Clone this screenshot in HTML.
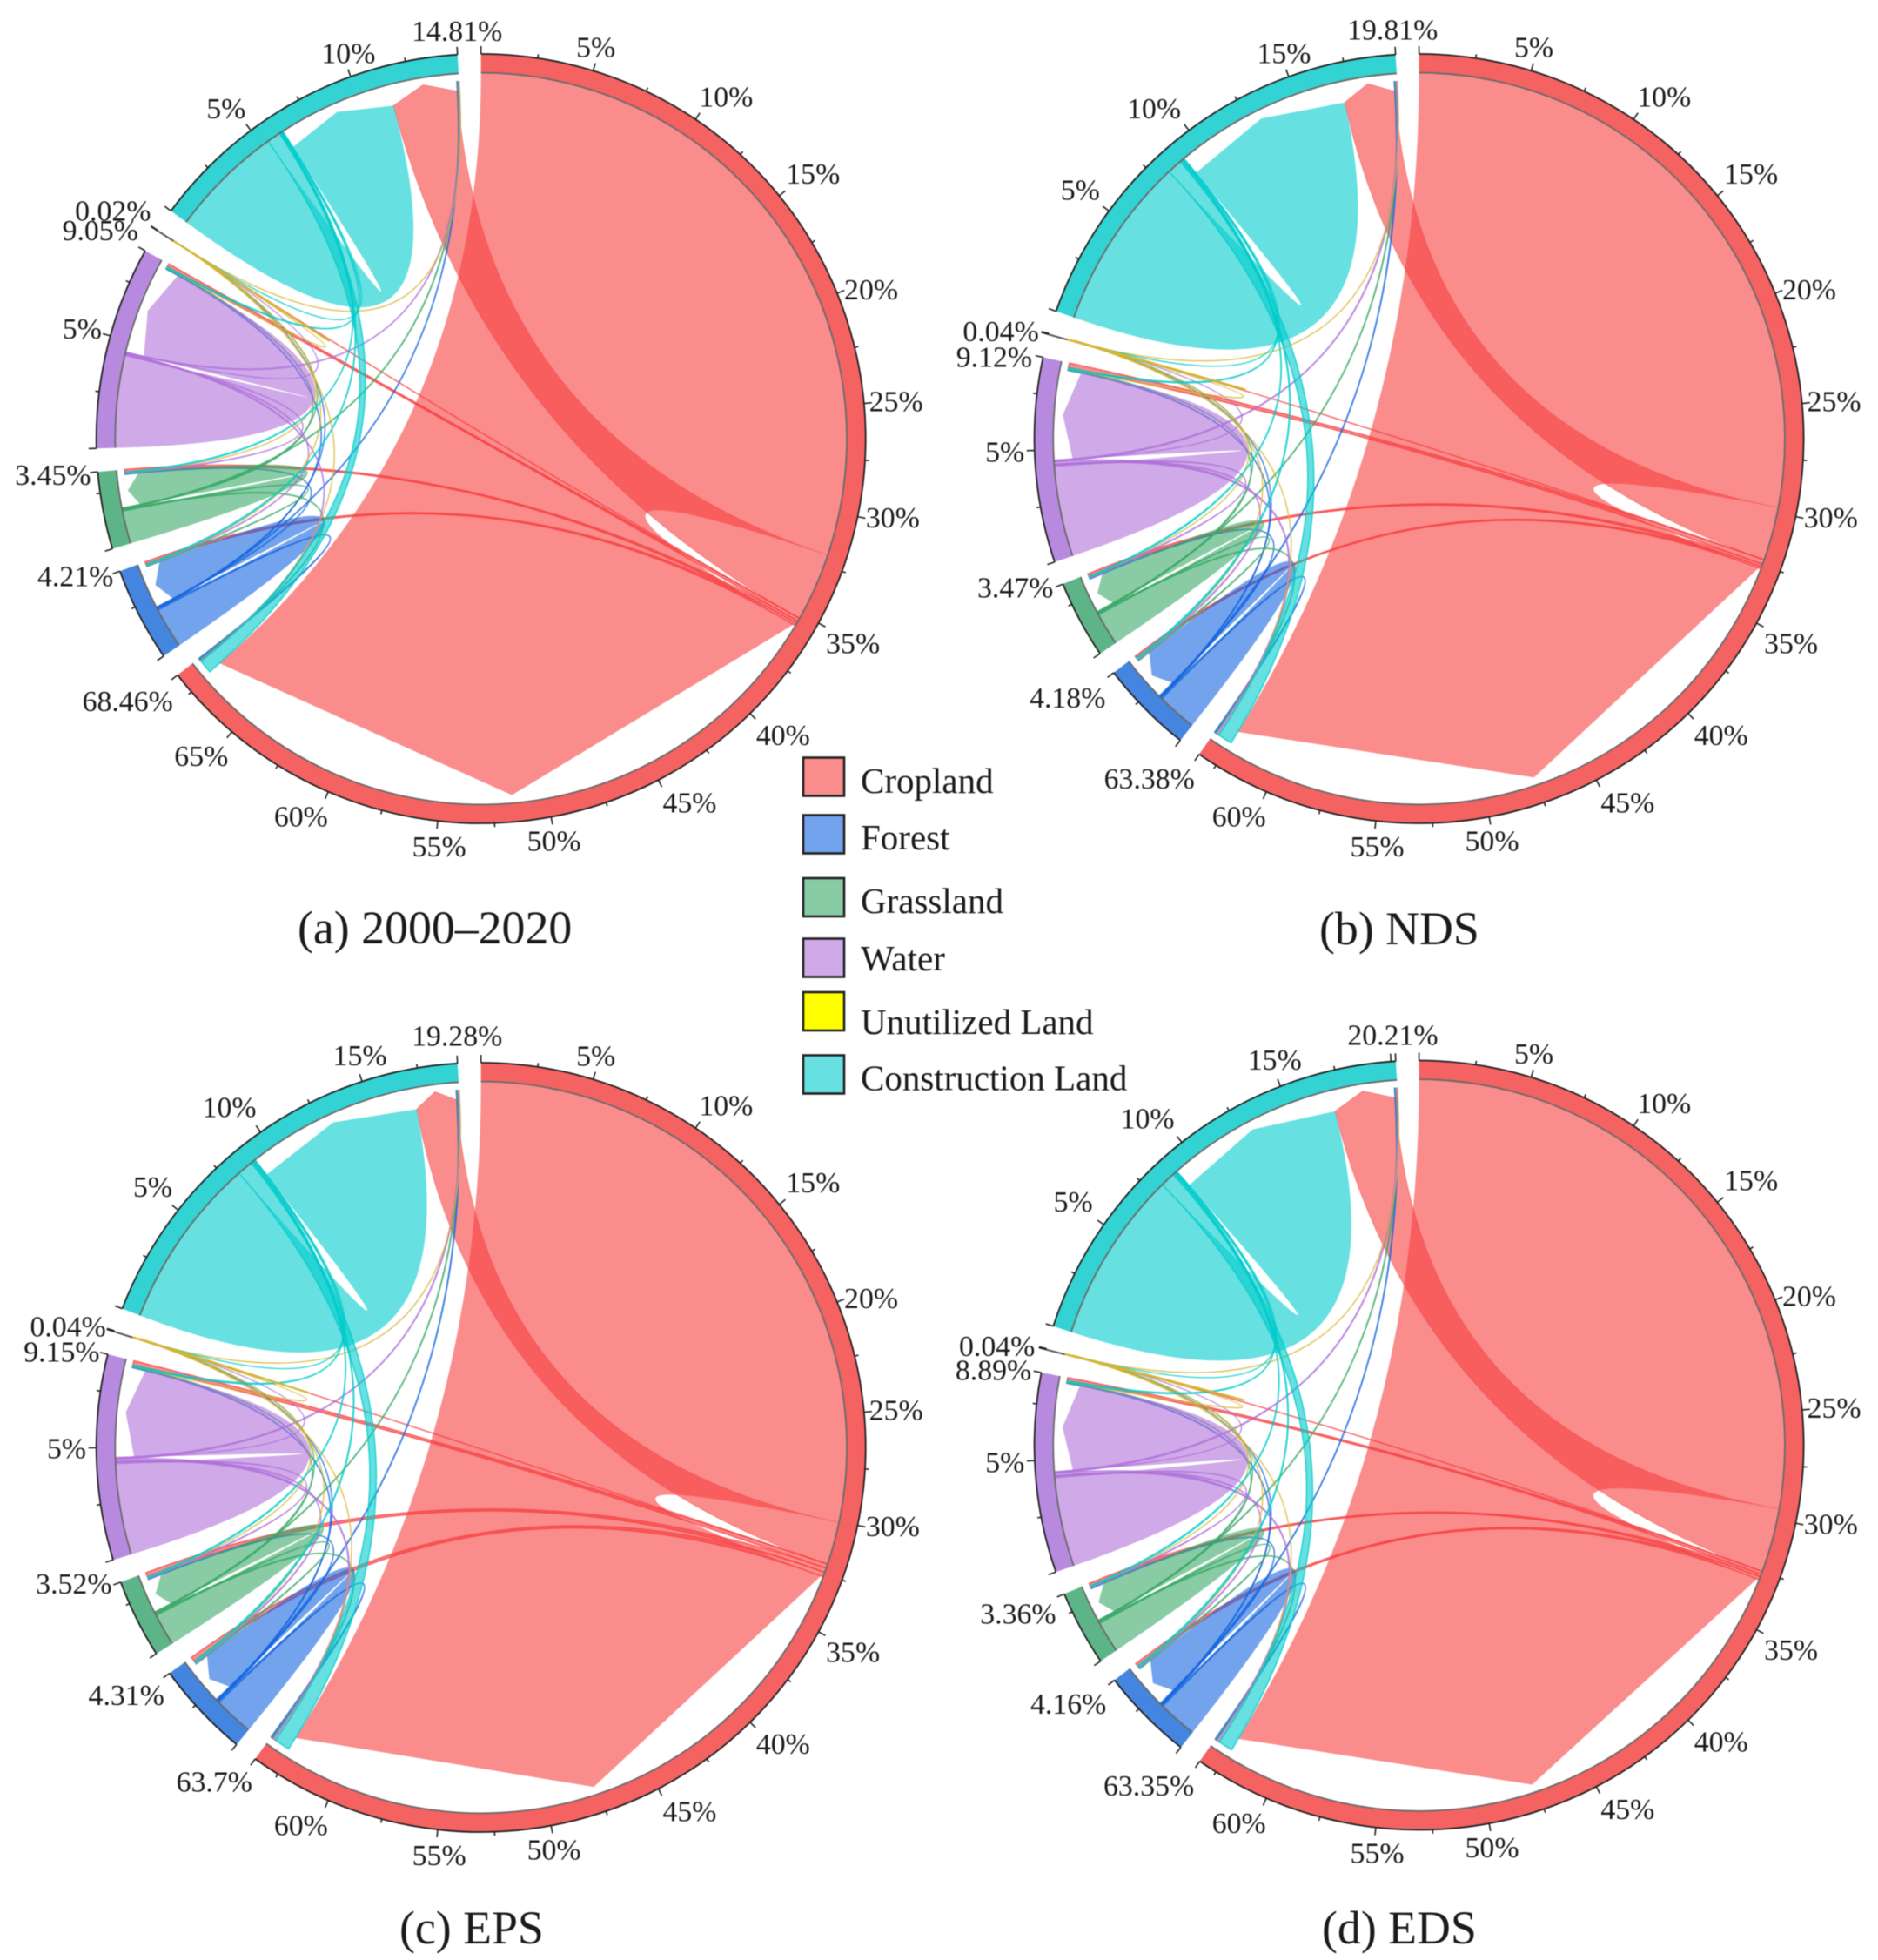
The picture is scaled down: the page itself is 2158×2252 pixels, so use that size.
<!DOCTYPE html>
<html lang="en">
<head>
<meta charset="utf-8">
<title>Land use transition chord diagrams</title>
<style>
html,body{margin:0;padding:0;background:#fff;}
svg{display:block;filter:blur(0.55px);}
text{font-family:"Liberation Serif",serif;fill:#1a1a1a;}
</style>
</head>
<body>
<svg id="chart" xmlns="http://www.w3.org/2000/svg" width="2158" height="2252" viewBox="0 0 2158 2252">
<rect x="0" y="0" width="2158" height="2252" fill="#fff"/>
<g>
<g><rect x="923" y="870.5" width="47" height="44" fill="#FA8C8C" stroke="#222" stroke-width="2.6"/><text x="989" y="911" font-size="41">Cropland</text></g>
<g><rect x="923" y="936.5" width="47" height="44" fill="#73A3EC" stroke="#222" stroke-width="2.6"/><text x="989" y="976" font-size="41">Forest</text></g>
<g><rect x="923" y="1009" width="47" height="44" fill="#88CBA4" stroke="#222" stroke-width="2.6"/><text x="989" y="1049" font-size="41">Grassland</text></g>
<g><rect x="923" y="1078.5" width="47" height="44" fill="#CFA9E8" stroke="#222" stroke-width="2.6"/><text x="989" y="1115" font-size="41">Water</text></g>
<g><rect x="923" y="1140" width="47" height="44" fill="#FFFF00" stroke="#222" stroke-width="2.6"/><text x="989" y="1188" font-size="41">Unutilized Land</text></g>
<g><rect x="923" y="1212.5" width="47" height="44" fill="#66E0E0" stroke="#222" stroke-width="2.6"/><text x="989" y="1252.5" font-size="41">Construction Land</text></g>
</g>
<text x="342" y="1084" font-size="53.8">(a) 2000–2020</text>
<text x="1516" y="1085" font-size="53.8">(b) NDS</text>
<text x="459" y="2233" font-size="53.8">(c) EPS</text>
<text x="1519" y="2233" font-size="53.8">(d) EDS</text>
</svg>
<script>
// Class order: Cropland, Forest, Grassland, Water, Unutilized Land, Construction Land
const classes = ['cropland','forest','grassland','water','unutilized-land','construction-land'];

// Printed sector sizes (%) per panel
const sizesA = [68.46, 4.21, 3.45, 9.05, 0.02, 14.81];
const sizesB = [63.38, 4.18, 3.47, 9.12, 0.04, 19.81];
const sizesC = [63.70, 4.31, 3.52, 9.15, 0.04, 19.28];
const sizesD = [63.35, 4.16, 3.36, 8.89, 0.04, 20.21];

// Off-diagonal flows (%): row = from class, column = to class. Self flows fill the rest of each sector.
const flowsA = [
  [0,    0.12, 0.12, 0.15, 0.001, 3.20],
  [0.06, 0,    0.03, 0.03, 0.001, 0.03],
  [0.05, 0.03, 0,    0.03, 0.001, 0.04],
  [0.05, 0.03, 0.03, 0,    0.001, 0.04],
  [0.001,0.001,0.001,0.001,0,     0.001],
  [0.65, 0.06, 0.05, 0.06, 0.001, 0]
];
const flowsB = [
  [0,    0.10, 0.12, 0.22, 0.002, 2.50],
  [0.06, 0,    0.04, 0.03, 0.002, 0.04],
  [0.05, 0.04, 0,    0.03, 0.002, 0.04],
  [0.12, 0.05, 0.04, 0,    0.002, 0.06],
  [0.002,0.002,0.002,0.002,0,     0.002],
  [0.70, 0.08, 0.06, 0.07, 0.002, 0]
];
const flowsC = [
  [0,    0.22, 0.20, 0.20, 0.002, 2.00],
  [0.07, 0,    0.04, 0.03, 0.002, 0.04],
  [0.06, 0.04, 0,    0.03, 0.002, 0.04],
  [0.12, 0.05, 0.04, 0,    0.002, 0.06],
  [0.002,0.002,0.002,0.002,0,     0.002],
  [0.75, 0.08, 0.06, 0.07, 0.002, 0]
];
const flowsD = [
  [0,    0.14, 0.12, 0.14, 0.002, 3.00],
  [0.06, 0,    0.04, 0.03, 0.002, 0.04],
  [0.05, 0.04, 0,    0.03, 0.002, 0.04],
  [0.12, 0.05, 0.04, 0,    0.002, 0.06],
  [0.002,0.002,0.002,0.002,0,     0.002],
  [0.70, 0.08, 0.06, 0.07, 0.002, 0]
];

const panels = [
  {id:'a', sizes:sizesA, flows:flowsA, cx:552.7,  cy:504,    R:442},
  {id:'b', sizes:sizesB, flows:flowsB, cx:1630.6, cy:504,    R:442},
  {id:'c', sizes:sizesC, flows:flowsC, cx:552.7,  cy:1663,   R:442},
  {id:'d', sizes:sizesD, flows:flowsD, cx:1630.6, cy:1660.5, R:442}
];

const GAP = 3.5, DEG = (360 - 6 * GAP) / 100;
const RING_IN = 0.951, CHORD = 0.951, THIN_END = 0.93, FONT = 33.8, NUDGE = 1.4387;
const ringFill = ['#F46262','#4485E0','#5DB587','#B88ADF','#555555','#33D3D3'];
const ribbonFill = ['rgb(247,63,63)','rgb(22,102,223)','rgb(57,168,103)','rgb(175,112,217)','rgb(214,180,50)','rgb(0,203,203)'];
const ALPHA = '0.6';
const outOrder = [[5,4,3,2,1],[0,5,4,3,2],[1,0,5,4,3],[2,1,0,5,4],[5,3,2,1,0],[0,1,2,3,4]];
const inOrder  = [[5,4,3,2,1],[2,3,4,5,0],[1,3,4,5,0],[1,2,4,5,0],[1,2,3,5,0],[0,1,2,3,4]];

// Hand placement offsets for text labels, matching the irregular label positions in the figure
const cropTickNudge = {5:[-8,2],10:[5,0],15:[0,-4],20:[-5,5],25:[-9,0],30:[-6,-4],35:[-3,5],40:[2,1],45:[9,-2],50:[-4,-3],55:[5,-2],60:[-8,-1],65:[-2,2]};
const waterTickNudge = {5:[11,0]};
const constructionTickNudge = {
  a:{5:[1,0],10:[10,2]},
  b:{5:[5,-4],10:[-7,0],15:[8,2]},
  c:{5:[7,-5],10:[-5,-2],15:[9,0]},
  d:{5:[4,-6],10:[-6,-2],15:[8,-1]}
};
const totalNudge = {
  a:[[4,7],[1,-4],[3,0],[-2,-6],[-3,-4],[2,3]],
  b:[[-8,1],[-6,6],[-2,-6],[-1,4],[-1,4],[0,2]],
  c:[[0,0],[-3,4],[-1,-7],[1,3],[0,3],[2,0]],
  d:[[-9,1],[-6,5],[-1,7],[0,2],[-2,3],[0,1]]
};

const SVGNS = 'http://www.w3.org/2000/svg';
const root = document.getElementById('chart');

function polar(p, r, deg) {
  const a = deg * Math.PI / 180;
  return [p.cx + p.R * r * Math.sin(a), p.cy - p.R * r * Math.cos(a)];
}
function fmt(q) { return q[0].toFixed(2) + ' ' + q[1].toFixed(2); }
function arcPath(p, r, d0, d1, move) {
  const a = polar(p, r, d0), b = polar(p, r, d1);
  const rr = (p.R * r).toFixed(2);
  return (move ? 'M' + fmt(a) : 'L' + fmt(a)) + 'A' + rr + ' ' + rr + ' 0 ' + (d1 - d0 > 180 ? 1 : 0) + ' 1 ' + fmt(b);
}
function make(tag, parent) {
  const el = document.createElementNS(SVGNS, tag);
  parent.appendChild(el);
  return el;
}

function layout(p) {
  const n = 6, start = [], selfSize = [], selfOut = [], selfIn = [], outEnd = [], inEnd = [];
  let ang = 0;
  for (let i = 0; i < n; i++) {
    start[i] = ang;
    ang += p.sizes[i] * DEG + GAP;
    let sum = 0;
    for (let j = 0; j < n; j++) { if (j !== i) sum += p.flows[i][j] + p.flows[j][i]; }
    selfSize[i] = Math.max(0, (p.sizes[i] - sum) / 2);
    let c = 0;
    selfOut[i] = [c, c + selfSize[i]];
    c += selfSize[i];
    outEnd[i] = {};
    outOrder[i].forEach(function (j) { outEnd[i][j] = [c, c + p.flows[i][j]]; c += p.flows[i][j]; });
    selfIn[i] = [c, c + selfSize[i]];
    c += selfSize[i];
    inEnd[i] = {};
    inOrder[i].forEach(function (j) { inEnd[i][j] = [c, c + p.flows[j][i]]; c += p.flows[j][i]; });
  }
  return {start: start, selfSize: selfSize, selfOut: selfOut, selfIn: selfIn, outEnd: outEnd, inEnd: inEnd};
}

function ribbonPath(p, L, i, aEnd, j, bEnd, bDepth) {
  const ctr = p.cx.toFixed(2) + ' ' + p.cy.toFixed(2);
  const a0 = L.start[i] + aEnd[0] * DEG, a1 = L.start[i] + aEnd[1] * DEG;
  const b0 = L.start[j] + bEnd[0] * DEG, b1 = L.start[j] + bEnd[1] * DEG;
  const first = polar(p, CHORD, a0);
  let d = arcPath(p, CHORD, a0, a1, true);
  if (bDepth) {
    const bm = (b0 + b1) / 2;
    d += 'Q' + ctr + ' ' + fmt(polar(p, bDepth[0], b0)) + 'L' + fmt(polar(p, bDepth[1], bm)) + 'L' + fmt(polar(p, bDepth[2], b1));
  } else {
    d += 'Q' + ctr + ' ' + fmt(polar(p, THIN_END, b0));
    const rr = (p.R * THIN_END).toFixed(2);
    d += 'A' + rr + ' ' + rr + ' 0 ' + (b1 - b0 > 180 ? 1 : 0) + ' 1 ' + fmt(polar(p, THIN_END, b1));
  }
  d += 'Q' + ctr + ' ' + fmt(first) + 'Z';
  return d;
}

function drawPanel(p) {
  const L = layout(p);
  const g = make('g', root);
  
  

  const rib = make('g', g);
  
  

  for (let i = 0; i < 6; i++) {
    if (L.selfSize[i] > 0.05) {
      const depthIn = i === 0 ? [0.945, 0.93, 0.896] : [0.902, 0.928, 0.895];
      const self = make('path', rib);
      
      
      self.setAttribute('d', ribbonPath(p, L, i, L.selfOut[i], i, L.selfIn[i], depthIn));
      self.setAttribute('fill', ribbonFill[i]);
      self.setAttribute('fill-opacity', ALPHA);
    }
    for (let j = 0; j < 6; j++) {
      if (j === i) continue;
      const v = p.flows[i][j];
      const isTop = i === 0 && j === 5;
      const link = make('path', rib);
      
      
      link.setAttribute('d', ribbonPath(p, L, i, L.outEnd[i][j], j, L.inEnd[j][i], isTop ? [0.895, 0.932, 0.905] : null));
      link.setAttribute('fill', ribbonFill[i]);
      link.setAttribute('fill-opacity', ALPHA);
      if (v < 1) {
        link.setAttribute('stroke', ribbonFill[i]);
        link.setAttribute('stroke-width', '1.5');
        link.setAttribute('stroke-opacity', '0.75');
      } else {
        link.setAttribute('stroke', ribbonFill[i]);
        link.setAttribute('stroke-width', '1');
        link.setAttribute('stroke-opacity', '0.45');
      }
    }
  }
  // Gold self loop of the unutilized land sector
  const loop = make('path', rib);
  
  
  loop.setAttribute('d', ribbonPath(p, L, 4, [0, p.sizes[4] / 2], 4, [p.sizes[4] / 2, p.sizes[4]], null));
  loop.setAttribute('fill', 'none');
  loop.setAttribute('stroke', ribbonFill[4]);
  loop.setAttribute('stroke-width', '2');

  for (let i = 0; i < 6; i++) {
    const d0 = L.start[i], d1 = d0 + p.sizes[i] * DEG;
    const sec = make('g', g);
    
    

    if (i === 4) {
      const a = polar(p, 1, d0), b = polar(p, RING_IN, d0);
      const sliver = make('line', sec);
      
      
      sliver.setAttribute('x1', a[0]);
      sliver.setAttribute('y1', a[1]);
      sliver.setAttribute('x2', b[0]);
      sliver.setAttribute('y2', b[1]);
      sliver.setAttribute('stroke', ringFill[4]);
      sliver.setAttribute('stroke-width', '2');
    } else {
      const band = make('path', sec);
      
      
      const innerA = polar(p, RING_IN, d1), rr = (p.R * RING_IN).toFixed(2);
      band.setAttribute('d', arcPath(p, 1, d0, d1, true) + 'L' + fmt(innerA) + 'A' + rr + ' ' + rr + ' 0 ' + (d1 - d0 > 180 ? 1 : 0) + ' 0 ' + fmt(polar(p, RING_IN, d0)) + 'Z');
      band.setAttribute('fill', ringFill[i]);

      const inner = make('path', sec);
      
      
      inner.setAttribute('d', arcPath(p, RING_IN, d0, d1, true));
      inner.setAttribute('fill', 'none');
      inner.setAttribute('stroke', '#6a6a6a');
      inner.setAttribute('stroke-width', '1.8');

      const outer = make('path', sec);
      
      
      outer.setAttribute('d', arcPath(p, 1, d0, d1, true));
      outer.setAttribute('fill', 'none');
      outer.setAttribute('stroke', '#222');
      outer.setAttribute('stroke-width', '1.8');
    }

    // Ticks every 2.5%, longer every 5% and at both sector ends
    const marks = [0];
    for (let t = 2.5; t < p.sizes[i]; t += 2.5) marks.push(t);
    marks.push(p.sizes[i]);
    marks.forEach(function (t, idx) {
      const major = idx === 0 || idx === marks.length - 1 || Math.abs(t % 5) < 1e-6;
      const deg = d0 + t * DEG;
      const from = polar(p, 1, deg), to = polar(p, 1 + (major ? 9 : 4.5) / p.R, deg);
      const tick = make('line', sec);
      
      
      tick.setAttribute('x1', from[0]);
      tick.setAttribute('y1', from[1]);
      tick.setAttribute('x2', to[0]);
      tick.setAttribute('y2', to[1]);
      tick.setAttribute('stroke', '#222');
      tick.setAttribute('stroke-width', '1.6');
    });

    // Percent tick labels
    const nudgeTable = i === 0 ? cropTickNudge : (i === 3 ? waterTickNudge : (i === 5 ? constructionTickNudge[p.id] : {}));
    for (let t = 5; t < p.sizes[i] - 1; t += 5) {
      const a = (d0 + t * DEG) * Math.PI / 180;
      const off = nudgeTable[t] || [0, 0];
      const lab = make('text', sec);
      
      
      lab.setAttribute('x', p.cx + 492 * Math.sin(a) + off[0] * NUDGE);
      lab.setAttribute('y', p.cy - 474 * Math.cos(a) + off[1] * NUDGE);
      lab.setAttribute('text-anchor', 'middle');
      lab.setAttribute('dy', '0.35em');
      lab.setAttribute('font-size', FONT);
      lab.textContent = t + '%';
    }
    // Sector total label
    const e = d1 * Math.PI / 180;
    const tn = totalNudge[p.id][i];
    const total = make('text', sec);
    
    
    total.setAttribute('x', p.cx + (i === 0 ? 522 : 498) * Math.sin(e) + tn[0] * NUDGE);
    total.setAttribute('y', p.cy - 474 * Math.cos(e) + tn[1] * NUDGE);
    total.setAttribute('text-anchor', 'middle');
    total.setAttribute('dy', '0.35em');
    total.setAttribute('font-size', FONT);
    total.textContent = p.sizes[i] + '%';
  }
}
panels.forEach(drawPanel);
</script>
</body>
</html>
